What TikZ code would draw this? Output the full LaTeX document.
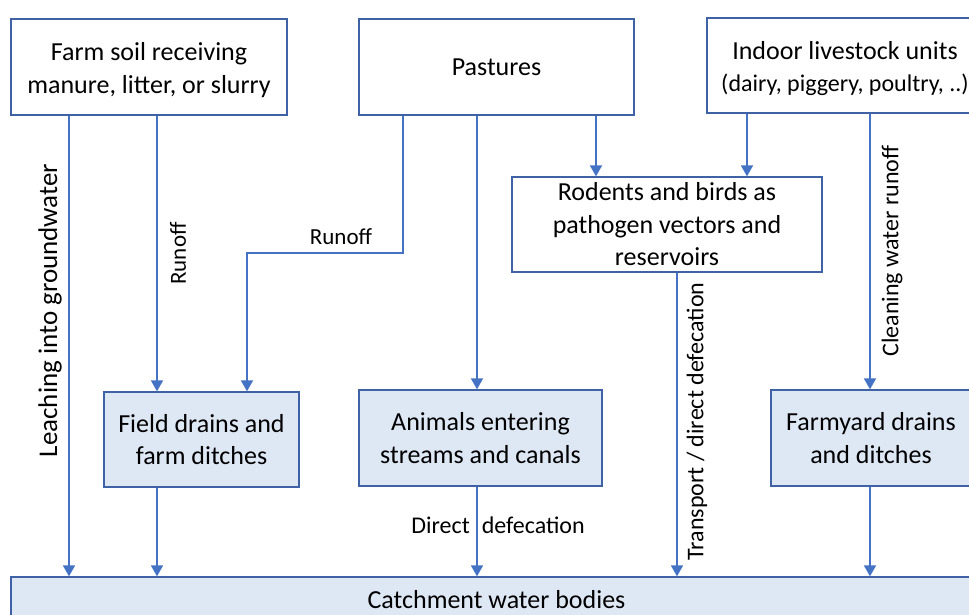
\documentclass[tikz,border=0pt]{standalone}
\usepackage{fontspec}
\setmainfont{Carlito}
\usetikzlibrary{arrows.meta,calc}
\definecolor{lineblue}{HTML}{4472C4}
\definecolor{boxline}{HTML}{3F62A6}
\definecolor{boxfill}{HTML}{DEE8F5}
\begin{document}
\begin{tikzpicture}[x=1pt,y=-1pt,
  box/.style={draw=boxline, line width=1.3pt, rectangle, inner sep=0pt, align=center, font=\fontsize{26}{32.5}\selectfont},
  wbox/.style={box, fill=white},
  bbox/.style={box, fill=boxfill},
  arr/.style={draw=lineblue, line width=1.8pt, -{Triangle[width=12pt,length=11pt]}},
  lab/.style={font=\fontsize{24}{28}\selectfont, inner sep=0pt, text=black}]
\useasboundingbox (0,0) rectangle (969,615);
\clip (0,0) rectangle (969,615);
\fill[white] (0,0) rectangle (969,615);

% top boxes
\node[wbox, minimum width=276pt, minimum height=96pt] (farm) at (149,67) {\rule{0pt}{24pt}Farm soil receiving\\manure, litter, or slurry};
\node[wbox, minimum width=275pt, minimum height=96pt] (past) at (496.5,67) {Pastures};
\node[wbox, minimum width=276pt, minimum height=95pt] (indoor) at (845,65.5) {\rule{0pt}{24pt}Indoor livestock units\\{\fontsize{24}{32.5}\selectfont (dairy, piggery, poultry, ..)}};
\node[wbox, minimum width=310pt, minimum height=95pt] (rod) at (667,224.5) {Rodents and birds as\\pathogen vectors and\\reservoirs};

% middle boxes
\node[bbox, minimum width=195pt, minimum height=95pt] (field) at (201.5,439.5) {Field drains and\\farm ditches};
\node[bbox, minimum width=243pt, minimum height=96pt] (anim) at (480.5,438) {Animals entering\\streams and canals};
\node[bbox, minimum width=200pt, minimum height=96pt] (yard) at (871,438) {Farmyard drains\\and ditches};

% bottom box
\node[bbox, minimum width=971pt, minimum height=46pt] (catch) at (496.5,600) {Catchment water bodies};

% column coordinates
\coordinate (c69) at (69,0);
\coordinate (c157) at (157,0);
\coordinate (c247) at (247,253);
\coordinate (c403) at (403,253);
\coordinate (c477) at (477,0);
\coordinate (c596) at (596,0);
\coordinate (c677) at (677,0);
\coordinate (c747) at (747,0);
\coordinate (c870) at (870,0);

% connectors
\draw[arr] (farm.south -| c69) -- (catch.north -| c69);
\draw[arr] (farm.south -| c157) -- (field.north -| c157);
\draw[arr] (past.south -| c403) -- (c403) -- (c247) -- (field.north -| c247);
\draw[arr] (past.south -| c477) -- (anim.north -| c477);
\draw[arr] (past.south -| c596) -- (rod.north -| c596);
\draw[arr] (indoor.south -| c747) -- (rod.north -| c747);
\draw[arr] (indoor.south -| c870) -- (yard.north -| c870);
\draw[arr] (rod.south -| c677) -- (catch.north -| c677);
\draw[arr] (field.south -| c157) -- (catch.north -| c157);
\draw[arr] (anim.south -| c477) -- (catch.north -| c477);
\draw[arr] (yard.south -| c870) -- (catch.north -| c870);

% labels
\node[lab, rotate=90, font=\fontsize{27}{30}\selectfont] (l1) at (50,310.5) {Leaching into groundwater};
\node[lab, rotate=90, font=\fontsize{23}{27}\selectfont] (l2) at (178,253.5) {Runoff};
\node[lab, font=\fontsize{23}{27}\selectfont] (l3) at (341,237) {Runoff};
\node[lab, rotate=90] (l4) at (892,251) {Cleaning water runoff};
\node[lab, rotate=90] (l5) at (697,421.5) {Transport / direct defecation};
\node[lab] (l6) at (498,525) {Direct\hspace{0.5em}defecation};
\end{tikzpicture}
\end{document}
